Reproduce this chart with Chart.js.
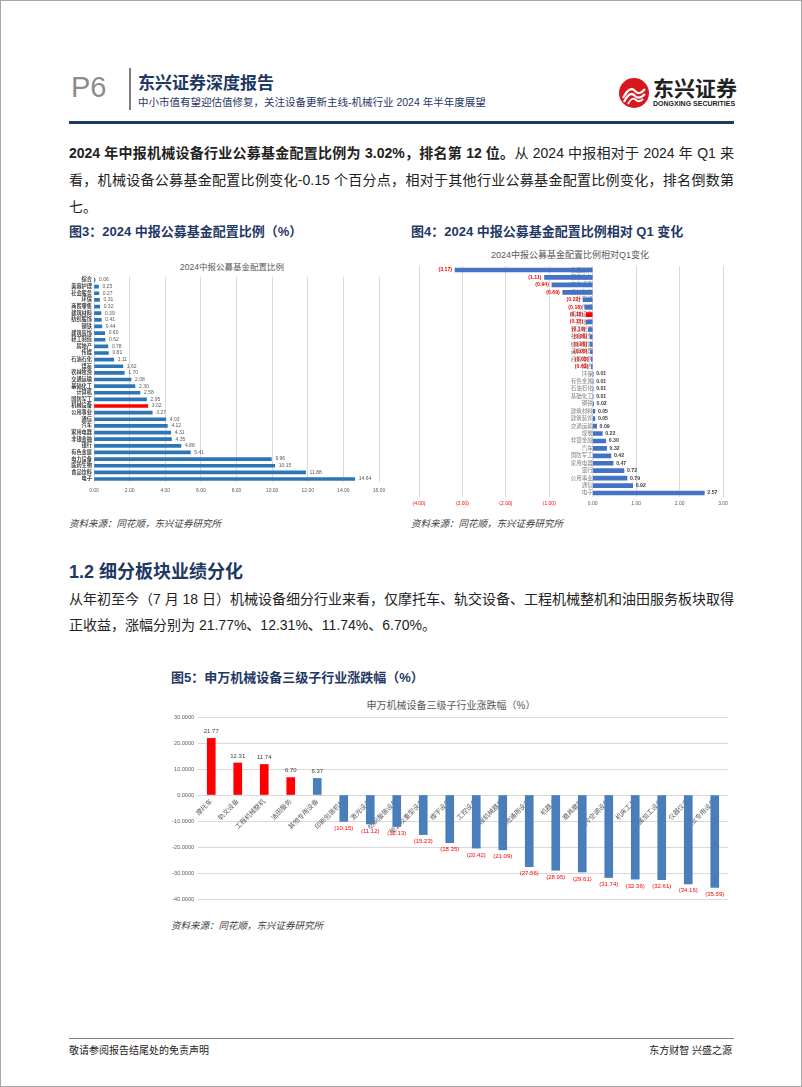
<!DOCTYPE html>
<html>
<head>
<meta charset="utf-8">
<script src="https://cdn.jsdelivr.net/npm/chart.js@4"></script>
<style>
  body { margin: 0; background: #fff; }
  #page { position: relative; width: 802px; height: 1087px; box-sizing: border-box; border: 1px solid #a6a6a6; overflow: hidden;
          font-family: "Liberation Sans", "Noto Sans CJK SC", sans-serif; color: #222; }
  .abs { position: absolute; white-space: nowrap; }
  .navy { color: #1f3864; }
  .para { position: absolute; left: 68px; width: 665px; font-size: 14px; line-height: 27px; }
  .para span { display: block; text-align: justify; text-align-last: justify; white-space: nowrap; }
  .para span.last { text-align-last: left; }
  .figt { font-size: 13px; font-weight: bold; color: #1f3864; }
  .src { font-size: 9.5px; font-style: italic; color: #404040; }
  .ctitle { position: absolute; text-align: center; color: #595959; white-space: nowrap; transform: translateX(-50%); }
  canvas { position: absolute; }
</style>
</head>
<body>
<div id="page">
  <!-- header -->
  <div class="abs" style="left:70px; top:69px; font-size:29px; line-height:34px; color:#8c8c8c;">P6</div>
  <div class="abs" style="left:128px; top:67px; width:1.5px; height:42px; background:#7f7f7f;"></div>
  <div class="abs navy" style="left:137px; top:72px; font-size:17px; line-height:22px; font-weight:bold;">东兴证券深度报告</div>
  <div class="abs navy" style="left:137px; top:94px; font-size:10.5px; line-height:14px;">中小市值有望迎估值修复，关注设备更新主线-机械行业 2024 年半年度展望</div>
  <svg class="abs" style="left:617px; top:76px;" width="32" height="32" viewBox="0 0 32 32">
    <circle cx="16" cy="16" r="15" fill="#d7161e"/>
    <path d="M5 21 Q12 8 17 14 Q21 19 27 12" stroke="#fff" stroke-width="2.2" fill="none"/>
    <path d="M6 25 Q12 13 17 19 Q21 23 27 17" stroke="#fff" stroke-width="2.2" fill="none"/>
    <path d="M10 27 Q14 19 18 23 Q21 26 25 22" stroke="#fff" stroke-width="1.8" fill="none"/>
  </svg>
  <div class="abs" style="left:652px; top:76px; font-size:21px; line-height:24px; font-weight:bold; color:#222;">东兴证券</div>
  <div class="abs" style="left:652px; top:99px; font-size:7px; line-height:8px; font-weight:bold; color:#222;">DONGXING SECURITIES</div>
  <div class="abs" style="left:68px; top:120px; width:665px; height:3px; background:#1f3864;"></div>

  <!-- paragraph 1 -->
  <div class="para" style="top:139px;">
    <span><b>2024 年中报机械设备行业公募基金配置比例为 3.02%，排名第 12 位。</b>从 2024 中报相对于 2024 年 Q1 来</span>
    <span>看，机械设备公募基金配置比例变化-0.15 个百分点，相对于其他行业公募基金配置比例变化，排名倒数第</span>
    <span class="last">七。</span>
  </div>

  <div class="abs figt" style="left:68px; top:220px;">图3：2024 中报公募基金配置比例（%）</div>
  <div class="abs figt" style="left:410px; top:220px;">图4：2024 中报公募基金配置比例相对 Q1 变化</div>

  <div class="ctitle" style="left:231px; top:259px; font-size:8.5px;">2024中报公募基金配置比例</div>
  <div class="ctitle" style="left:569px; top:247px; font-size:9px;">2024中报公募基金配置比例相对Q1变化</div>

  <canvas id="c3" width="322" height="262" style="left:68px; top:243px; width:322px; height:262px;"></canvas>
  <canvas id="c4" width="330" height="267" style="left:405px; top:243px; width:330px; height:267px;"></canvas>

  <div class="abs src" style="left:68px; top:515px;">资料来源：同花顺，东兴证券研究所</div>
  <div class="abs src" style="left:410px; top:515px;">资料来源：同花顺，东兴证券研究所</div>

  <div class="abs navy" style="left:68px; top:560px; font-size:18px; line-height:22px; font-weight:bold;">1.2 细分板块业绩分化</div>
  <div class="para" style="top:585px; line-height:26px;">
    <span>从年初至今（7 月 18 日）机械设备细分行业来看，仅摩托车、轨交设备、工程机械整机和油田服务板块取得</span>
    <span class="last">正收益，涨幅分别为 21.77%、12.31%、11.74%、6.70%。</span>
  </div>

  <div class="abs figt" style="left:170px; top:666px;">图5：申万机械设备三级子行业涨跌幅（%）</div>
  <div class="ctitle" style="left:450px; top:696px; font-size:10px;">申万机械设备三级子行业涨跌幅（%）</div>
  <canvas id="c5" width="570" height="215" style="left:165px; top:690px; width:570px; height:215px;"></canvas>
  <div class="abs src" style="left:170px; top:917px;">资料来源：同花顺，东兴证券研究所</div>

  <!-- footer -->
  <div class="abs" style="left:68px; top:1037px; width:665px; height:1px; background:#7f7f7f;"></div>
  <div class="abs" style="left:68px; top:1043px; font-size:10px; line-height:14px; color:#222;">敬请参阅报告结尾处的免责声明</div>
  <div class="abs" style="right:69px; top:1043px; font-size:10px; line-height:14px; color:#222;">东方财智 兴盛之源</div>
</div>

<script>
// 图3 数据
const fundCats = ['综合', '美容护理', '社会服务', '环保', '商贸零售', '建筑材料', '纺织服饰', '钢铁', '建筑装饰', '轻工制造',
  '房地产', '传媒', '石油石化', '煤炭', '农林牧渔', '交通运输', '基础化工', '计算机', '国防军工', '机械设备',
  '公用事业', '通信', '汽车', '家用电器', '非银金融', '银行', '有色金属', '电力设备', '医药生物', '食品饮料', '电子'];
const fundShare = [0.06, 0.25, 0.27, 0.31, 0.32, 0.39, 0.41, 0.44, 0.60, 0.62,
  0.78, 0.81, 1.11, 1.62, 1.70, 2.08, 2.30, 2.58, 2.95, 3.02,
  3.27, 4.03, 4.12, 4.31, 4.35, 4.88, 5.41, 9.96, 10.15, 11.88, 14.64];
const shareTicks = [0, 2, 4, 6, 8, 10, 12, 14, 16];

// 图4 数据
const changeCats = ['食品饮料', '医药生物', '电力设备', '农林牧渔', '计算机', '传媒', '机械设备', '房地产', '轻工制造', '社会服务',
  '纺织服饰', '美容护理', '商贸零售', '综合', '环保', '有色金属', '石油石化', '基础化工', '钢铁', '建筑材料',
  '建筑装饰', '交通运输', '煤炭', '非银金融', '汽车', '国防军工', '家用电器', '银行', '公用事业', '通信', '电子'];
const changeVals = [-3.17, -1.11, -0.94, -0.69, -0.22, -0.18, -0.15, -0.15, -0.10, -0.06,
  -0.06, -0.05, -0.03, -0.03, 0.01, 0.01, 0.01, 0.01, 0.02, 0.05,
  0.05, 0.09, 0.22, 0.30, 0.32, 0.42, 0.47, 0.72, 0.79, 0.92, 2.57];
const changeTicks = [-4, -3, -2, -1, 0, 1, 2, 3];

// 图5 数据
const subCats = ['摩托车', '轨交设备', '工程机械整机', '油田服务', '其他专用设备', '印刷包装机械', '激光设备', '纺织服装设备',
  '能源及重型设备', '楼宇设备', '工控设备', '工程机械器件', '其他通用设备', '机器人', '磨具磨料', '制冷空调设备',
  '机床工具', '金属加工设备', '仪器仪表', '农业专用设备'];
const subReturn = [21.77, 12.31, 11.74, 6.70, 6.37, -10.15, -11.12, -12.13, -15.23, -18.35,
  -20.42, -21.09, -27.56, -28.95, -29.61, -31.74, -32.36, -32.61, -34.16, -35.59];
const redCount = 4;

Chart.defaults.font.family = '"Liberation Sans", "Noto Sans CJK SC", sans-serif';
Chart.defaults.animation = false;

const fmt = v => v < 0 ? '(' + Math.abs(v).toFixed(2) + ')' : v.toFixed(2);

// 柱端数值标签
const valueLabels = {
  id: 'valueLabels',
  afterDatasetsDraw(chart, args, opts) {
    const ctx = chart.ctx;
    const meta = chart.getDatasetMeta(0);
    const data = chart.data.datasets[0].data;
    const horiz = chart.options.indexAxis === 'y';
    ctx.save();
    ctx.font = opts.font;
    meta.data.forEach((bar, i) => {
      const v = data[i];
      const neg = v < 0;
      ctx.fillStyle = neg ? opts.negColor : opts.posColor;
      if (horiz) {
        ctx.textBaseline = 'middle';
        ctx.textAlign = neg ? 'right' : 'left';
        ctx.fillText(fmt(v), bar.x + (neg ? -opts.gap : opts.gap), bar.y);
      } else {
        ctx.textAlign = 'center';
        ctx.textBaseline = neg ? 'top' : 'bottom';
        ctx.fillText(fmt(v), bar.x, bar.y + (neg ? opts.gap : -opts.gap));
      }
    });
    ctx.restore();
  }
};

const noPad = axis => { axis.paddingLeft = 0; axis.paddingRight = 0; axis.paddingTop = 0; axis.paddingBottom = 0; };

// 图3
new Chart(document.getElementById('c3'), {
  type: 'bar',
  data: {
    labels: fundCats,
    datasets: [{
      data: fundShare,
      backgroundColor: fundCats.map(c => c === '机械设备' ? '#ff0000' : '#2e75b6'),
      barThickness: 3
    }]
  },
  plugins: [valueLabels],
  options: {
    indexAxis: 'y',
    responsive: false,
    layout: { padding: { top: 32.7, bottom: 9.7, left: 0, right: 12 } },
    plugins: {
      legend: { display: false }, tooltip: { enabled: false },
      valueLabels: { font: '5px "Liberation Sans"', posColor: '#595959', negColor: '#ff0000', gap: 4 }
    },
    scales: {
      x: {
        min: 0, max: 16,
        afterBuildTicks: axis => { axis.ticks = shareTicks.map(v => ({ value: v })); },
        afterFit: axis => { axis.height = 14; noPad(axis); },
        grid: { color: '#d9d9d9', drawTicks: false },
        border: { display: false },
        ticks: { font: { size: 5 }, color: '#595959', padding: 5, callback: v => Number(v).toFixed(2) }
      },
      y: {
        afterFit: axis => { axis.width = 25; noPad(axis); },
        grid: { display: false, drawTicks: false },
        border: { display: false },
        ticks: { font: { size: 5.2, weight: 'bold' }, color: '#404040', padding: 2, autoSkip: false }
      }
    }
  }
});

// 图4
new Chart(document.getElementById('c4'), {
  type: 'bar',
  data: {
    labels: changeCats,
    datasets: [{
      data: changeVals,
      backgroundColor: changeCats.map(c => c === '机械设备' ? '#ff0000' : '#4472c4'),
      barThickness: 4
    }]
  },
  plugins: [valueLabels],
  options: {
    indexAxis: 'y',
    responsive: false,
    layout: { padding: { top: 22.3, bottom: 4.3, left: 13, right: 13 } },
    plugins: {
      legend: { display: false }, tooltip: { enabled: false },
      valueLabels: { font: 'bold 5.2px "Liberation Sans"', posColor: '#404040', negColor: '#ff0000', gap: 3 }
    },
    scales: {
      x: {
        min: -4, max: 3,
        afterBuildTicks: axis => { axis.ticks = changeTicks.map(v => ({ value: v })); },
        afterFit: axis => { axis.height = 10; noPad(axis); },
        grid: { color: '#d9d9d9', drawTicks: false },
        border: { display: false },
        ticks: {
          font: { size: 5 }, padding: 4,
          color: c => c.tick && c.tick.value < 0 ? '#ff0000' : '#595959',
          callback: v => fmt(Number(v))
        }
      },
      y: {
        position: { x: 0 },
        z: 1,
        afterFit: noPad,
        grid: { display: false, drawTicks: false },
        border: { display: false },
        ticks: { font: { size: 5.5 }, color: '#7f7f7f', padding: 4, autoSkip: false }
      }
    }
  }
});

// 图5
new Chart(document.getElementById('c5'), {
  type: 'bar',
  data: {
    labels: subCats,
    datasets: [{
      data: subReturn,
      backgroundColor: subReturn.map((v, i) => i < redCount ? '#ff0000' : '#4a7ebb'),
      barThickness: 8
    }]
  },
  plugins: [valueLabels],
  options: {
    responsive: false,
    layout: { padding: { top: 26, bottom: 7, left: 0, right: 8 } },
    plugins: {
      legend: { display: false }, tooltip: { enabled: false },
      valueLabels: { font: '6px "Liberation Sans"', posColor: '#404040', negColor: '#ff0000', gap: 4 }
    },
    scales: {
      x: {
        position: { y: 0 },
        z: 1,
        afterFit: noPad,
        grid: { display: false, drawTicks: false },
        border: { display: false },
        ticks: { font: { size: 6.5 }, color: '#595959', padding: 3, minRotation: 45, maxRotation: 45, autoSkip: false }
      },
      y: {
        min: -40, max: 30,
        ticks: { stepSize: 10, font: { size: 5.5 }, color: '#595959', padding: 4, callback: v => Number(v).toFixed(4) },
        afterFit: axis => { axis.width = 32; noPad(axis); },
        grid: { color: '#d9d9d9', drawTicks: false },
        border: { display: false }
      }
    }
  }
});
</script>
</body>
</html>
